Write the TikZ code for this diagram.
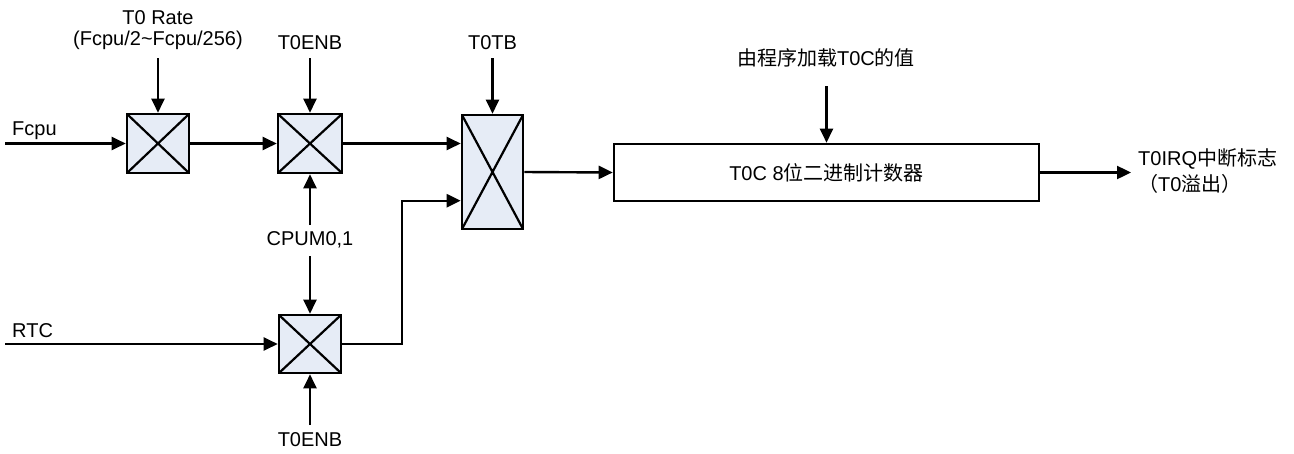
\documentclass[tikz,border=0pt]{standalone}
\usepackage{fontspec}
\setmainfont{Liberation Sans}
\newfontfamily\cjk{Noto Sans CJK SC}
\usetikzlibrary{arrows.meta}
\definecolor{boxfill}{RGB}{230,236,246}
\begin{document}
\begin{tikzpicture}[x=1pt,y=-1pt,
  line width=2.4pt,
  arr/.style={-{Triangle[length=14pt,width=13pt]}},
  lbl/.style={inner sep=0pt,font=\fontsize{20}{21}\selectfont},
  xbox/.style={draw,fill=boxfill,inner sep=0pt,line width=2.6pt,
    path picture={\draw[line width=2.2pt] (path picture bounding box.north west) -- (path picture bounding box.south east)
      (path picture bounding box.north east) -- (path picture bounding box.south west);}},
  cnt/.style={draw,inner sep=0pt,line width=2.6pt,font=\fontsize{20}{21}\selectfont}]
\useasboundingbox (0,0) rectangle (1294,453);
% boxes
\node[xbox,minimum width=62pt,minimum height=59pt] (b1) at (158,143.5) {};
\node[xbox,minimum width=64pt,minimum height=59pt] (b2) at (310,143.5) {};
\node[xbox,minimum width=61pt,minimum height=114pt] (b3) at (492.5,172) {};
\node[xbox,minimum width=62pt,minimum height=58pt] (b4) at (310,344) {};
\node[cnt,minimum width=425pt,minimum height=57pt] (c) at (826.5,172.5) {T0C 8{\cjk 位二进制计数器}};
% labels
\node[lbl,anchor=west] (lfcpu) at (11,131) {Fcpu};
\node[lbl,anchor=west] (lrtc) at (11,331) {RTC};
\node[lbl,align=center] (lrate) at (158,30) {T0 Rate\\(Fcpu/2\textasciitilde Fcpu/256)};
\node[lbl] (len1) at (310,43) {T0ENB};
\node[lbl] (ltb) at (492.5,43) {T0TB};
\node[lbl] (lcpum) at (310,240) {CPUM0,1};
\node[lbl] (len2) at (310,440) {T0ENB};
\node[lbl] (lload) at (826,58) {{\cjk 由程序加载}T0C{\cjk 的值}};
\node[lbl,anchor=west] (lirq) at (1137,159) {T0IRQ{\cjk 中断标志}};
\node[lbl,anchor=west] (lovf) at (1137,184) {{\cjk （}T0{\cjk 溢出）}};
% free ends
\coordinate (sfcpu) at (5,143.5);
\coordinate (srtc) at (5,344);
\coordinate (srate) at (158,58);
\coordinate (sen1) at (310,58);
\coordinate (stb) at (492.5,58);
\coordinate (scpu1) at (310,225);
\coordinate (scpu2) at (310,256);
\coordinate (sen2) at (310,425);
\coordinate (sload) at (826.5,86);
\coordinate (eirq) at (1131,172.5);
\coordinate (bend) at (402,344);
\coordinate (in2) at (462,200.7);
% connectors
\draw[arr] (sfcpu) -- (b1.west);
\draw[arr] (b1.east) -- (b2.west);
\draw[arr] (b2.east) -- (b2.east -| b3.west);
\draw[arr] (srate) -- (b1.north);
\draw[arr] (sen1) -- (b2.north);
\draw[arr] (stb) -- (b3.north);
\draw[arr] (scpu1) -- (b2.south);
\draw[arr] (scpu2) -- (b4.north);
\draw[arr] (sen2) -- (b4.south);
\draw[arr] (srtc) -- (b4.west);
\draw[arr] (b4.east) -- (bend) |- (in2 -| b3.west);
\draw[arr] (b3.east) -- (c.west);
\draw[arr] (sload) -- (c.north);
\draw[arr] (c.east) -- (eirq);
\end{tikzpicture}
\end{document}
